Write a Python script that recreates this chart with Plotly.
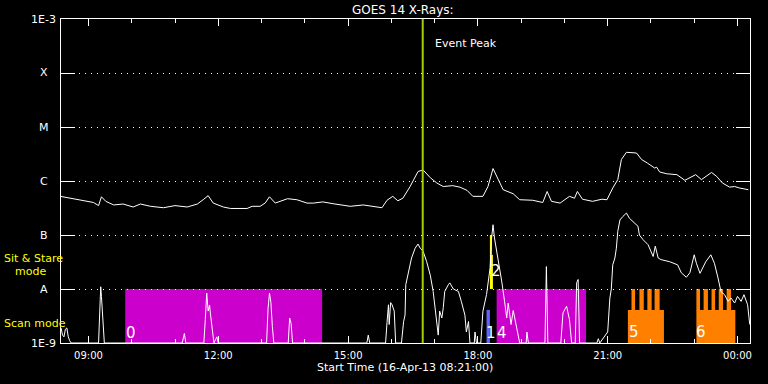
import math
import plotly.graph_objects as go

# ---------------- data ----------------
DAY0, DAY1 = "2013-04-16", "2013-04-17"

long_times = ["08:21", "08:35", "08:49", "09:07", "09:14", "09:18", "09:24", "09:35", "09:48", "10:02",
              "10:12", "10:26", "10:44", "11:00", "11:17", "11:31", "11:39", "11:46", "11:53", "12:07",
              "12:17", "12:40", "12:47", "12:58", "13:05", "13:11", "13:19", "13:36", "13:49", "14:03",
              "14:12", "14:25", "14:39", "15:03", "15:21", "15:35", "15:47", "15:54", "16:02", "16:09",
              "16:16", "16:26", "16:33", "16:37", "16:44", "16:54", "17:03", "17:12", "17:25", "17:35",
              "17:45", "17:53", "18:07", "18:14", "18:21", "18:28", "18:35", "18:49", "18:58", "19:16",
              "19:30", "19:36", "19:42", "19:54", "20:01", "20:07", "20:14", "20:18", "20:25", "20:39",
              "20:52", "20:59", "21:07", "21:14", "21:19", "21:26", "21:40", "21:47", "21:55", "22:05",
              "22:08", "22:12", "22:22", "22:36", "22:47", "22:54", "23:02", "23:10", "23:24", "23:31",
              "23:39", "23:49", "23:56", "00:03", "00:15"]
long_flux = [5.2e-7, 4.8e-7, 4.3e-7, 4.0e-7, 3.5e-7, 5.1e-7, 4.2e-7, 3.6e-7, 3.75e-7, 3.3e-7,
             3.75e-7, 3.4e-7, 3.2e-7, 3.5e-7, 3.3e-7, 3.75e-7, 4.5e-7, 5.35e-7, 3.9e-7, 3.3e-7,
             3.1e-7, 3.1e-7, 3.4e-7, 3.4e-7, 3.9e-7, 5.1e-7, 3.9e-7, 4.7e-7, 4.5e-7, 3.9e-7,
             3.9e-7, 4.1e-7, 3.8e-7, 3.4e-7, 3.6e-7, 3.4e-7, 3.2e-7, 4.4e-7, 5.2e-7, 4.3e-7,
             4.8e-7, 7.9e-7, 1.2e-6, 1.5e-6, 1.6e-6, 1.15e-6, 9.2e-7, 7.9e-7, 8.2e-7, 7.7e-7,
             6.7e-7, 5.2e-7, 5.2e-7, 7.9e-7, 1.7e-6, 1.06e-6, 6.9e-7, 5.8e-7, 4.5e-7, 4.4e-7,
             4.0e-7, 6.4e-7, 4.2e-7, 3.9e-7, 4.5e-7, 5.2e-7, 4.8e-7, 6.4e-7, 4.6e-7, 4.2e-7,
             4.6e-7, 4.5e-7, 7.4e-7, 1.06e-6, 2.5e-6, 3.4e-6, 3.3e-6, 2.5e-6, 2.15e-6, 1.74e-6,
             1.8e-6, 1.47e-6, 1.36e-6, 1.31e-6, 1.03e-6, 1.14e-6, 1.31e-6, 1.06e-6, 1.44e-6, 1.22e-6,
             9.2e-7, 7.7e-7, 7.9e-7, 7.4e-7, 6.9e-7]

short_times = ["08:22", "08:24", "08:26", "08:28", "08:30", "08:32", "08:34", "08:36", "09:14", "09:16",
               "09:17", "09:18", "09:20", "09:21", "09:22", "11:10", "11:13", "11:15", "11:40", "11:42",
               "11:44", "11:46", "11:48", "11:49", "11:52", "11:54", "11:58", "12:00", "13:07", "13:09",
               "13:11", "13:13", "13:15", "13:17", "13:37", "13:39", "13:41", "13:43", "15:26", "15:28",
               "15:30", "15:52", "15:54", "15:56", "15:57", "15:59", "16:01", "16:04", "16:06", "16:14",
               "16:17", "16:19", "16:20", "16:24", "16:28", "16:33", "16:37", "16:40", "16:44", "16:49",
               "16:54", "16:58", "17:00", "17:03", "17:05", "17:07", "17:10", "17:12", "17:14", "17:19",
               "17:21", "17:26", "17:33", "17:37", "17:42", "17:44", "17:47", "17:49", "17:55", "17:56",
               "17:58", "18:04", "18:07", "18:12", "18:17", "18:19", "18:21", "18:23", "18:28", "18:33",
               "18:37", "18:40", "18:42", "18:46", "18:49", "18:54", "18:58", "19:07", "19:08", "19:10",
               "19:33", "19:35", "19:37", "19:55", "19:58", "20:03", "20:07", "20:10", "20:15", "20:17",
               "20:19", "20:21", "20:45", "20:47", "20:49", "21:00", "21:03", "21:05", "21:07", "21:10",
               "21:12", "21:14", "21:17", "21:21", "21:26", "21:30", "21:35", "21:42", "21:44", "21:49",
               "21:56", "22:03", "22:06", "22:10", "22:14", "22:26", "22:37", "22:42", "22:49", "22:54",
               "23:00", "23:03", "23:08", "23:16", "23:23", "23:28", "23:33", "23:37", "23:42", "23:47",
               "23:51", "23:56", "00:00", "00:05", "00:09", "00:14", "00:17"]
short_flux = [1.9e-9, 1.4e-9, 1.3e-9, 1.8e-9, 1.9e-9, 1.3e-9, 1.1e-9, 1.0e-9, 1.0e-9, 5.9e-9,
              1.1e-8, 7.3e-9, 2.4e-9, 1.3e-9, 1.0e-9, 1.0e-9, 1.5e-9, 1.0e-9, 1.0e-9, 2.7e-9,
              8.4e-9, 3.9e-9, 5.0e-9, 3.6e-9, 1.6e-9, 1.0e-9, 1.3e-9, 1.0e-9, 1.0e-9, 4.3e-9,
              8.4e-9, 5.6e-9, 2.0e-9, 1.0e-9, 1.0e-9, 2.9e-9, 2.3e-9, 1.0e-9, 1.0e-9, 1.4e-9,
              1.0e-9, 1.0e-9, 2.4e-9, 5.1e-9, 2.2e-9, 5.6e-9, 5.1e-9, 3.9e-9, 1.0e-9, 1.0e-9,
              2.5e-9, 3.3e-9, 1.2e-8, 2.1e-8, 3.75e-8, 5.7e-8, 6.8e-8, 5.7e-8, 5.0e-8, 3.2e-8,
              1.8e-8, 9.0e-9, 5.1e-9, 2.2e-9, 1.4e-9, 3.9e-9, 2.9e-9, 4.5e-9, 9.0e-9, 1.2e-8,
              1.3e-8, 1.0e-8, 9.0e-9, 5.9e-9, 3.3e-9, 1.6e-9, 2.5e-9, 1.0e-9, 1.0e-9, 1.6e-9,
              1.0e-9, 1.0e-9, 3.9e-9, 7.9e-9, 2.5e-8, 8.8e-8, 1.55e-7, 8.8e-8, 3.75e-8, 1.4e-8,
              5.9e-9, 2.9e-9, 5.5e-9, 2.2e-9, 4.0e-9, 2.0e-9, 1.0e-9, 1.0e-9, 1.6e-9, 1.0e-9,
              1.0e-9, 2.6e-8, 1.0e-9, 1.0e-9, 3.6e-9, 4.8e-9, 2.7e-9, 1.0e-9, 1.0e-9, 1.3e-8,
              1.5e-8, 1.0e-9, 1.0e-9, 1.2e-9, 1.0e-9, 1.6e-9, 6.8e-9, 1.0e-8, 2.8e-8, 3.75e-8,
              5.7e-8, 1.17e-7, 1.9e-7, 2.2e-7, 2.55e-7, 2.05e-7, 1.8e-7, 1.45e-7, 1.0e-7, 8.2e-8,
              6.6e-8, 4.0e-8, 6.2e-8, 3.75e-8, 3.5e-8, 3.2e-8, 2.8e-8, 2.0e-8, 1.65e-8, 2.0e-8,
              4.3e-8, 3.0e-8, 1.95e-8, 3.2e-8, 4.3e-8, 3.0e-8, 1.6e-8, 9.0e-9, 7.85e-9, 5.9e-9,
              6.8e-9, 5.5e-9, 7.3e-9, 5.9e-9, 7.85e-9, 5.1e-9, 2.2e-9]

class_labels = ["1E-9", "A", "B", "C", "M", "X", "1E-3"]
class_levels = [1e-9, 1e-8, 1e-7, 1e-6, 1e-5, 1e-4, 1e-3]

event_peak = "16:43:30"

# observation blocks
scan_start = ["09:51", "18:26"]
scan_end = ["14:24", "20:30"]
scan_label = ["0", "4"]
scan_label_time = ["09:59", "18:33"]

raster_start = ["21:28", "23:03"]
raster_end = ["22:18", "23:57"]
raster_label = ["5", "6"]
raster_label_time = ["21:36", "23:10"]
stripe_start = ["21:33", "21:44", "21:55", "22:05", "23:03", "23:13", "23:24", "23:34", "23:45"]
stripe_end = ["21:38", "21:50", "22:01", "22:12", "23:08", "23:19", "23:29", "23:40", "23:51"]

sit_start, sit_mid, sit_end = "18:16:40", "18:19:20", "18:20:50"
blue_start, blue_end = "18:12", "18:16:40"

# ---------------- helpers ----------------
def stamp(t):
    h = int(t.split(":")[0])
    if t.count(":") == 1:
        t += ":00"
    return f"{DAY1 if h < 8 else DAY0} {t}"

L, R, T, B = 61, 18, 19, 41
W, H = 768, 384
pw, ph = W - L - R, H - T - B

def px(x):
    return (x - L) / pw

def py(y):
    return (H - B - y) / ph

FONT = "DejaVu Sans"
MAGENTA = "#cc00cc"
ORANGE = "#ff8000"
YELLOW = "#ffff00"

fig = go.Figure()
fig.add_trace(go.Scatter(x=[stamp(t) for t in long_times], y=long_flux, mode="lines",
                         line=dict(color="white", width=1), hoverinfo="skip"))
fig.add_trace(go.Scatter(x=[stamp(t) for t in short_times], y=short_flux, mode="lines",
                         line=dict(color="white", width=1), hoverinfo="skip"))

shapes = []
def rect(x0, x1, y0, y1, color):
    shapes.append(dict(type="rect", xref="x", yref="y", x0=stamp(x0), x1=stamp(x1), y0=y0, y1=y1,
                       fillcolor=color, line=dict(width=0), layer="below"))

for s, e in zip(scan_start, scan_end):
    rect(s, e, 1e-9, 1e-8, MAGENTA)
for s, e in zip(raster_start, raster_end):
    rect(s, e, 1e-9, 4.1e-9, ORANGE)
for s, e in zip(stripe_start, stripe_end):
    rect(s, e, 4.0e-9, 1e-8, ORANGE)
rect(sit_start, sit_mid, 4.3e-8, 1e-7, YELLOW)
rect(sit_start, sit_end, 1e-8, 4.3e-8, YELLOW)
rect(blue_start, blue_end, 1e-9, 4.1e-9, "#6464ff")

shapes.append(dict(type="line", xref="x", yref="paper", x0=stamp(event_peak), x1=stamp(event_peak),
                   y0=0, y1=1, line=dict(color="#a0d000", width=2), layer="above"))

ann = []
def label(text, x, y, size, color="white", xanchor="center", xref="paper", yref="paper"):
    ann.append(dict(text=text, x=x, y=y, xref=xref, yref=yref, showarrow=False,
                    xanchor=xanchor, yanchor="middle",
                    font=dict(family=FONT, size=size, color=color)))

# title, axis title
label("GOES 14 X-Rays:", px(402.5), py(10), 12)
label("Start Time (16-Apr-13 08:21:00)", px(405), py(368), 11)
label("Event Peak", px(433), py(43), 11, xanchor="left")

# y labels
for txt, lev in zip(class_labels, class_levels):
    ypx = 19 + (-3 - math.log10(lev)) * 54
    if len(txt) > 1:
        label(txt, px(57.5), py(ypx), 11, xanchor="right")
    else:
        label(txt, px(44), py(ypx), 11)
label("Sit & Stare", px(2), py(258), 11, color=YELLOW, xanchor="left")
label("mode", px(13), py(271), 11, color=YELLOW, xanchor="left")
label("Scan mode", px(2), py(323.5), 11, color=YELLOW, xanchor="left")

# block numbers
for t, txt in zip(scan_label_time, scan_label):
    label(txt, stamp(t), math.log10(1.55e-9), 15, xref="x", yref="y")
for t, txt in zip(raster_label_time, raster_label):
    label(txt, stamp(t), math.log10(1.6e-9), 15, xref="x", yref="y")
label("1", stamp("18:18"), math.log10(1.5e-9), 15, xref="x", yref="y")
label("2", stamp("18:25"), math.log10(2.2e-8), 15, xref="x", yref="y")

fig.update_layout(
    width=W, height=H, margin=dict(l=L, r=R, t=T, b=B),
    paper_bgcolor="black", plot_bgcolor="black",
    showlegend=False, shapes=shapes, annotations=ann,
    font=dict(family=FONT, color="white", size=10),
)
fig.update_xaxes(
    type="date", range=[stamp("08:21:55"), stamp("00:17:20")],
    tickmode="linear", tick0=f"{DAY0} 00:00", dtick=3 * 3600000, tickformat="%H:%M",
    ticks="inside", ticklen=7, tickcolor="white", tickwidth=1,
    minor=dict(dtick=3600000, ticks="inside", ticklen=4, tickcolor="white", tickwidth=1),
    showline=True, linecolor="white", linewidth=1, mirror="allticks",
    showgrid=False, zeroline=False, ticklabelstandoff=3,
    tickfont=dict(family=FONT, size=10, color="white"),
)
fig.update_yaxes(
    type="log", range=[-9, -3], tickmode="array", tickvals=class_levels,
    ticks="inside", ticklen=14, tickcolor="white", tickwidth=1,
    showline=True, linecolor="white", linewidth=1, mirror="allticks",
    showgrid=True, gridcolor="white", gridwidth=1, griddash="1px,5px",
    showticklabels=False, zeroline=False,
)

fig.write_html("out.html", config={"displayModeBar": False},
               post_script="document.body.style.margin='0';document.body.style.background='black';")
